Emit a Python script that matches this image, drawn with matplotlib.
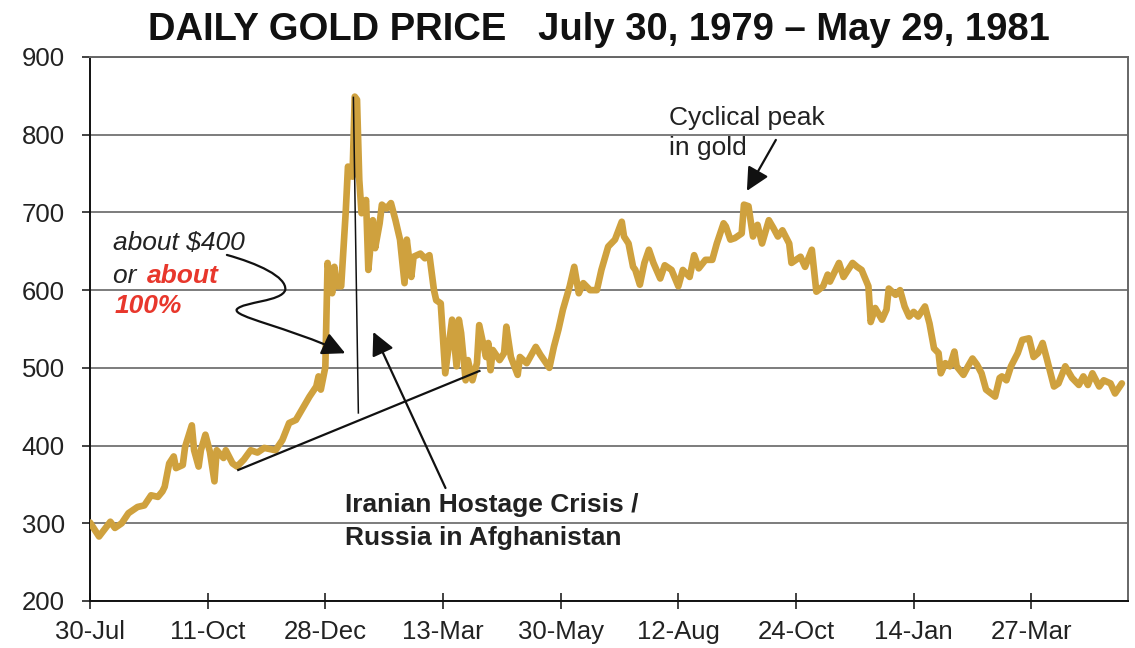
import matplotlib
matplotlib.use("Agg")
import matplotlib.pyplot as plt
from matplotlib.patches import FancyArrowPatch
from matplotlib.path import Path

plt.rcParams['font.family'] = ['Liberation Sans', 'DejaVu Sans']

# trading day index (from 30-Jul-1979) and London gold price
trading_day = [0, 4, 9, 11, 14, 17, 21, 24, 27, 30, 32, 33, 35, 37, 38, 41, 42, 45, 46, 48,
               49, 51, 53, 55, 56, 59, 60, 63, 65, 68, 71, 74, 77, 82, 85, 88, 91, 94, 97, 100,
               101, 102, 104, 105, 107, 108, 109, 111, 113, 114, 116, 117, 118, 119, 120, 122, 123, 125, 126, 128,
               129, 131, 133, 135, 137, 139, 140, 142, 143, 146, 148, 150, 152, 153, 155, 157, 160, 162, 163, 164,
               166, 167, 169, 171, 172, 175, 176, 177, 178, 181, 183, 184, 186, 189, 190, 193, 197, 199, 203, 205,
               207, 209, 212, 214, 216, 218, 221, 224, 226, 229, 232, 235, 236, 238, 240, 241, 243, 245, 247, 249,
               252, 254, 257, 260, 262, 265, 267, 269, 272, 275, 277, 280, 281, 283, 285, 288, 289, 291, 293, 295,
               297, 300, 302, 304, 306, 309, 310, 314, 316, 319, 321, 324, 326, 327, 331, 333, 337, 339, 341, 344,
               345, 347, 350, 352, 353, 356, 358, 360, 362, 364, 366, 369, 371, 373, 375, 376, 378, 380, 382, 383,
               386, 388, 390, 392, 394, 396, 400, 402, 403, 405, 407, 410, 412, 415, 417, 419, 421, 423, 426, 428,
               431, 434, 437, 439, 441, 443, 446, 448, 451, 453, 456]
price = [301, 283, 302, 294, 300, 313, 321, 323, 336, 334, 341, 347, 377, 386, 371, 375, 398, 426, 394, 373,
         394, 414, 392, 354, 394, 384, 394, 377, 373, 382, 394, 391, 397, 394, 407, 429, 433, 448, 463, 476,
         489, 472, 501, 635, 596, 630, 605, 605, 700, 759, 746, 849, 845, 742, 699, 716, 626, 690, 654, 686,
         710, 705, 712, 690, 665, 609, 665, 617, 643, 647, 641, 645, 600, 587, 583, 493, 562, 502, 562, 545,
         484, 510, 484, 506, 555, 514, 532, 497, 523, 510, 519, 553, 514, 491, 514, 506, 527, 517, 500, 527,
         549, 575, 605, 630, 596, 609, 600, 600, 626, 656, 665, 688, 669, 660, 630, 626, 607, 635, 652, 635,
         615, 632, 626, 605, 626, 617, 645, 628, 639, 639, 660, 686, 682, 665, 667, 673, 710, 708, 669, 684,
         660, 690, 680, 669, 677, 660, 635, 643, 630, 652, 598, 605, 620, 611, 635, 617, 635, 630, 626, 605,
         559, 577, 562, 575, 602, 594, 600, 579, 566, 572, 566, 579, 557, 525, 519, 493, 506, 502, 521, 502,
         491, 502, 512, 504, 493, 472, 463, 487, 489, 484, 502, 519, 536, 538, 514, 519, 532, 510, 476, 480,
         502, 487, 478, 489, 478, 493, 476, 484, 480, 467, 480]

tick_days = [0, 52, 104, 156, 208, 260, 312, 364, 416]
tick_labels = ['30-Jul', '11-Oct', '28-Dec', '13-Mar', '30-May', '12-Aug', '24-Oct', '14-Jan', '27-Mar']

gold = '#CFA13E'
red = '#E8372C'
ink = '#222222'

fig = plt.figure(figsize=(11.35, 6.48), dpi=100)
ax = fig.add_axes([90/1135, 1-601/648, (1127.5-90)/1135, (601-57)/648])

ax.plot(trading_day, price, color=gold, lw=4.8, solid_joinstyle='round', solid_capstyle='round', zorder=3)

ax.set_xlim(0, 458.5)
ax.set_ylim(200, 900)
ax.set_yticks(range(200, 901, 100))
ax.set_xticks(tick_days)
ax.set_xticklabels(tick_labels)
ax.grid(axis='y', color='#666666', lw=1.2)
ax.set_axisbelow(True)
ax.tick_params(axis='y', direction='out', length=6, width=1.2, pad=12, labelsize=18.5, colors=ink)
ax.tick_params(axis='x', direction='inout', length=12, width=1.2, pad=8, labelsize=18.5, colors=ink)
for side in ['left', 'bottom']:
    ax.spines[side].set_color('#111111')
    ax.spines[side].set_linewidth(1.4)
for side in ['top', 'right']:
    ax.spines[side].set_color('#666666')
    ax.spines[side].set_linewidth(1.4)

fig.text(0.528, 1-40/648, 'DAILY GOLD PRICE   July 30, 1979 \u2013 May 29, 1981',
         ha='center', va='baseline', fontsize=27.5, fontweight='bold', color='#111111')

# annotations
ax.plot([116.4, 118.6], [848, 442], color='#111111', lw=1.1, zorder=4)
ax.plot([65.5, 172.1], [368.6, 496], color='#111111', lw=1.6, zorder=4)

ax.text(10.2, 651.7, 'about $400', fontsize=19, style='italic', color=ink, va='baseline')
ax.text(10.2, 609.3, 'or ', fontsize=19, style='italic', color=ink, va='baseline')
ax.text(25, 609.3, 'about', fontsize=19, style='italic', fontweight='bold', color=red, va='baseline')
ax.text(11, 570.7, '100%', fontsize=19, style='italic', fontweight='bold', color=red, va='baseline')

squiggle = Path([(60.5, 645.3), (73.8, 634.6), (87.0, 617.4), (86.3, 600.3),
                 (84.8, 585.2), (67.8, 585.2), (64.9, 575.4),
                 (62.7, 565.9), (87.0, 553.0), (112.8, 518.8)],
                [Path.MOVETO] + [Path.CURVE4] * 9)
ax.add_patch(FancyArrowPatch(path=squiggle, arrowstyle='-|>,head_length=0.7,head_width=0.35',
                             mutation_scale=20, color='#111111', lw=1.6, zorder=5))

ax.text(112.8, 314.5, 'Iranian Hostage Crisis /', fontsize=19, fontweight='bold', color=ink, va='baseline')
ax.text(112.8, 272, 'Russia in Afghanistan', fontsize=19, fontweight='bold', color=ink, va='baseline')
ax.annotate('', xy=(125.2, 546.2), xytext=(157.1, 345.4),
            arrowprops=dict(arrowstyle='-|>,head_length=0.7,head_width=0.35', mutation_scale=20,
                            color='#111111', lw=1.6, shrinkA=0, shrinkB=0), zorder=5)

ax.text(255.8, 812.6, 'Cyclical peak', fontsize=19, color=ink, va='baseline')
ax.text(255.8, 774, 'in gold', fontsize=19, color=ink, va='baseline')
ax.annotate('', xy=(290.3, 727.7), xytext=(303.1, 793.3),
            arrowprops=dict(arrowstyle='-|>,head_length=0.7,head_width=0.35', mutation_scale=20,
                            color='#111111', lw=1.6, shrinkA=0, shrinkB=0), zorder=5)

fig.savefig('out.png', dpi=100, facecolor='white')
